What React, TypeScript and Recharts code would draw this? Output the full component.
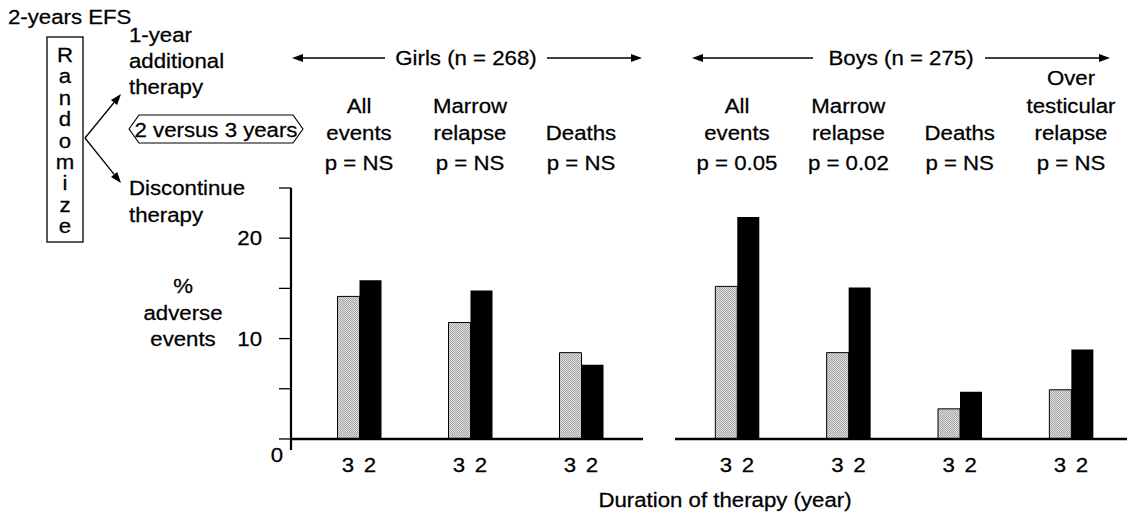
import React from 'react';
import { BarChart, Bar, XAxis, YAxis, ReferenceLine } from 'recharts';

const girlsCategories = ['All\nevents', 'Marrow\nrelapse', 'Deaths'];
const girlsPValues = ['p = NS', 'p = NS', 'p = NS'];
const girlsThreeYears = [14.2, 11.6, 8.6];
const girlsTwoYears = [15.8, 14.8, 7.4];

const boysCategories = ['All\nevents', 'Marrow\nrelapse', 'Deaths', 'Over\ntesticular\nrelapse'];
const boysPValues = ['p = 0.05', 'p = 0.02', 'p = NS', 'p = NS'];
const boysThreeYears = [15.2, 8.6, 3.0, 4.9];
const boysTwoYears = [22.1, 15.1, 4.7, 8.9];

const yTicks = [0, 5, 10, 15, 20, 25];
const yTickLabels = ['0', '', '10', '', '20', ''];
const durationLabels = ['3', '2'];
const groupTitles = ['Girls (n = 268)', 'Boys (n = 275)'];
const randomizeLetters = 'Randomize'.split('');
const upperArm = ['1-year', 'additional', 'therapy'];
const lowerArm = ['Discontinue', 'therapy'];
const yLabelLines = ['%', 'adverse', 'events'];

const FONT = '"Liberation Sans", Arial, Helvetica, sans-serif';
const FS = 19.5;
const SX = 1.14;
const INK = '#000';

const girlsData = girlsCategories.map((name, i) => ({
  name,
  three: girlsThreeYears[i],
  two: girlsTwoYears[i],
}));
const boysData = boysCategories.map((name, i) => ({
  name,
  three: boysThreeYears[i],
  two: boysTwoYears[i],
}));

function Txt({ x, y, children, anchor = 'middle' }: any) {
  return (
    <text
      transform={`translate(${x} ${y}) scale(${SX} 1)`}
      textAnchor={anchor}
      fontFamily={FONT}
      fontSize={FS}
      fill={INK}
      stroke={INK}
      strokeWidth={0.25}
    >
      {children}
    </text>
  );
}

function Arrow({ x1, y1, x2, y2 }: any) {
  const a = Math.atan2(y2 - y1, x2 - x1);
  const len = 11;
  const hw = 4;
  const bx = x2 - len * Math.cos(a);
  const by = y2 - len * Math.sin(a);
  const px = -Math.sin(a) * hw;
  const py = Math.cos(a) * hw;
  return (
    <g>
      <line x1={x1} y1={y1} x2={bx} y2={by} stroke={INK} strokeWidth={1.3} />
      <polygon points={`${x2},${y2} ${bx + px},${by + py} ${bx - px},${by - py}`} fill={INK} />
    </g>
  );
}

const makeCategoryTick = (pValues: string[]) => (props: any) => {
  const { x, y, payload } = props;
  const lines = String(payload.value).split('\n');
  const idx = payload.index ?? props.index;
  return (
    <g>
      {lines.map((line, i) => (
        <Txt key={i} x={x} y={y - 48 - (lines.length - 1 - i) * 27.5}>
          {line}
        </Txt>
      ))}
      <Txt x={x} y={y - 18}>{pValues[idx]}</Txt>
    </g>
  );
};

const DurationTick = (props: any) => {
  const { x, y } = props;
  return (
    <g>
      <Txt x={x - 11} y={y + 22}>{durationLabels[0]}</Txt>
      <Txt x={x + 11} y={y + 22}>{durationLabels[1]}</Txt>
    </g>
  );
};

const YTick = (props: any) => {
  const { x, y, payload } = props;
  const label = yTickLabels[yTicks.indexOf(payload.value)];
  if (!label) return <g />;
  if (payload.value === 0) {
    return <Txt x={x + 15} y={y + 23}>{label}</Txt>;
  }
  return <Txt x={x} y={y + 7} anchor="end">{label}</Txt>;
};

function Stipple({ id }: { id: string }) {
  return (
    <defs>
      <pattern id={id} width="2" height="2" patternUnits="userSpaceOnUse">
        <rect width="2" height="2" fill="#dedede" />
        <rect width="1" height="1" fill="#a6a6a6" />
        <rect x="1" y="1" width="1" height="1" fill="#a6a6a6" />
      </pattern>
    </defs>
  );
}

const Y_DOMAIN: [number, number] = [-1.1, 25];

function Panel({ data, pValues, patternId, padding, showY, margin, width }: any) {
  return (
    <BarChart width={width} height={514} data={data} margin={margin} barGap={0} barSize={22}>
      <Stipple id={patternId} />
      <XAxis
        dataKey="name"
        xAxisId="top"
        orientation="top"
        height={188}
        axisLine={false}
        tickLine={false}
        tickSize={0}
        tickMargin={0}
        interval={0}
        padding={padding}
        tick={makeCategoryTick(pValues)}
      />
      <XAxis
        dataKey="name"
        height={64}
        axisLine={false}
        tickLine={false}
        tickSize={0}
        tickMargin={0}
        interval={0}
        padding={padding}
        tick={DurationTick}
      />
      <YAxis
        hide={!showY}
        width={91}
        domain={Y_DOMAIN}
        ticks={yTicks}
        allowDataOverflow
        interval={0}
        tickSize={12}
        tickMargin={17}
        axisLine={{ stroke: '#000', strokeWidth: 2.2 }}
        tickLine={{ stroke: '#000', strokeWidth: 1.3 }}
        tick={YTick}
      />
      <Bar dataKey="three" fill={`url(#${patternId})`} stroke="#000" strokeWidth={1} isAnimationActive={false} />
      <Bar dataKey="two" fill="#000" isAnimationActive={false} />
      <ReferenceLine y={0} stroke="#000" strokeWidth={2.5} />
    </BarChart>
  );
}

export default function App() {
  return (
    <div style={{ position: 'absolute', left: 0, top: 0, width: 1131, height: 514, background: '#fff' }}>
      <div style={{ position: 'absolute', left: 200, top: 0 }}>
        <Panel
          data={girlsData}
          pValues={girlsPValues}
          patternId="stipple-girls"
          padding={{ left: 12.5, right: 6.5 }}
          showY
          width={450}
          margin={{ top: 0, right: 7, bottom: 0, left: 0 }}
        />
      </div>
      <div style={{ position: 'absolute', left: 650, top: 0 }}>
        <Panel
          data={boysData}
          pValues={boysPValues}
          patternId="stipple-boys"
          padding={{ left: 6.3, right: 0.3 }}
          showY={false}
          width={481}
          margin={{ top: 0, right: 4, bottom: 0, left: 25 }}
        />
      </div>
      <svg
        width={1131}
        height={514}
        style={{ position: 'absolute', left: 0, top: 0, pointerEvents: 'none' }}
      >
        <Txt x={8} y={24} anchor="start">2-years EFS</Txt>
        <rect x={47} y={37} width={36} height={205} fill="none" stroke={INK} strokeWidth={1.3} />
        {randomizeLetters.map((ch, i) => (
          <Txt key={i} x={65} y={62 + i * 21.4}>{ch}</Txt>
        ))}
        <Arrow x1={85} y1={138} x2={121} y2={94} />
        <Arrow x1={85} y1={138} x2={121} y2={183} />
        {upperArm.map((t, i) => (
          <Txt key={t} x={129} y={42 + i * 26} anchor="start">{t}</Txt>
        ))}
        {lowerArm.map((t, i) => (
          <Txt key={t} x={129} y={195 + i * 27} anchor="start">{t}</Txt>
        ))}
        <polygon
          points="139,115 293,115 303,129 293,143 139,143 129,129"
          fill="none"
          stroke={INK}
          strokeWidth={1.2}
          strokeLinejoin="round"
        />
        <Txt x={216} y={137}>2 versus 3 years</Txt>

        <Txt x={466} y={65}>{groupTitles[0]}</Txt>
        <Arrow x1={385} y1={58} x2={292} y2={58} />
        <Arrow x1={547} y1={58} x2={642} y2={58} />
        <Txt x={901} y={65}>{groupTitles[1]}</Txt>
        <Arrow x1={813} y1={58} x2={692} y2={58} />
        <Arrow x1={985} y1={58} x2={1110} y2={58} />

        {yLabelLines.map((t, i) => (
          <Txt key={t} x={183} y={293 + i * 26.5}>{t}</Txt>
        ))}
        <Txt x={725} y={507}>Duration of therapy (year)</Txt>
      </svg>
    </div>
  );
}
